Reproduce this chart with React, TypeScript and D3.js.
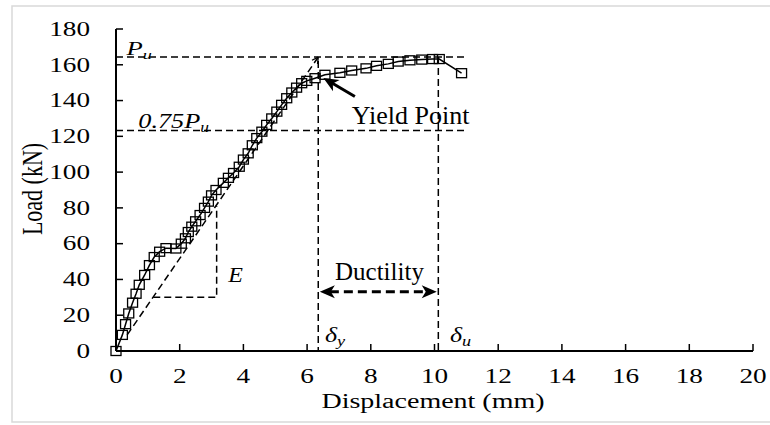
import React from 'react';
import * as d3 from 'd3';

// measured load-displacement curve
const displacement = [
  0, 0.2, 0.3, 0.4, 0.52, 0.63, 0.73, 0.9, 1.05, 1.2, 1.37, 1.57, 1.88, 2.05, 2.18,
  2.27, 2.38, 2.5, 2.64, 2.78, 2.9, 3.0, 3.14, 3.37, 3.53, 3.69, 3.87, 4.0, 4.15,
  4.28, 4.42, 4.58, 4.73, 4.89, 5.05, 5.2, 5.36, 5.52, 5.67, 5.83, 5.99, 6.25, 6.56,
  7.03, 7.4, 7.85, 8.18, 8.55, 8.86, 9.23, 9.6, 9.94, 10.15, 10.85,
];
const load = [
  0, 9, 15, 21, 27, 32, 37, 42.5, 48, 52.5, 55.5, 57.5, 57.3, 60, 63,
  66.5, 69.5, 72.5, 76, 80, 83.5, 87, 90, 94, 96.8, 99.5, 103, 107, 110.5,
  115, 119, 122.6, 126.4, 130, 133.8, 137.6, 141.3, 144.5, 147.2, 149.7, 151, 152.5, 154.4,
  155.5, 156.8, 158, 159.4, 160.5, 161.8, 162.5, 162.9, 163.2, 163.2, 155.3,
];

const xTicks = d3.range(0, 21, 2);
const yTicks = d3.range(0, 181, 20);

// annotation values (mm, kN)
const peakLoad = 164.3;
const yieldDisp = 6.35;
const ultDisp = 10.12;
const guideEnd = 11.05;
const secantStart = [0.35, 9];
const stiffTri = [1.17, 3.16, 30, 81];
const ductilityLoad = 33.1;
const ductilityRange = [6.4, 10.07];
const yieldArrow = [7.5, 142.3, 6.51, 152.6];

const W = 770;
const H = 425;
const FONT = '"Liberation Serif", "Times New Roman", serif';

const x = d3.scaleLinear().domain([0, 20]).range([116, 753]);
const y = d3.scaleLinear().domain([0, 180]).range([351, 29]);

function arrowHead(tx, ty, fx, fy, len, half, notch) {
  const a = Math.atan2(ty - fy, tx - fx);
  const c = Math.cos(a), s = Math.sin(a);
  const bx = tx - c * len, by = ty - s * len;
  const nx = tx - c * notch, ny = ty - s * notch;
  return `M${tx},${ty}L${bx - s * half},${by + c * half}L${nx},${ny}L${bx + s * half},${by - c * half}Z`;
}

function Stretch({ x0, y0, sx, children, anchor = 'start', size = 20, italic = false }) {
  return (
    <g transform={`translate(${x0},${y0}) scale(${sx},1)`}>
      <text fontFamily={FONT} fontSize={size} textAnchor={anchor}
        fontStyle={italic ? 'italic' : 'normal'} fill="#000">{children}</text>
    </g>
  );
}

export default function App() {
  const pts = displacement.map((d, i) => [d, load[i]]);
  const line = d3.line().x(d => x(d[0])).y(d => y(d[1]));

  const dash = { stroke: '#000', strokeWidth: 1.5, strokeDasharray: '7 4', fill: 'none' };

  const secX1 = x(secantStart[0]), secY1 = y(secantStart[1]);
  const secX2 = x(yieldDisp), secY2 = y(peakLoad);
  const secAng = Math.atan2(secY2 - secY1, secX2 - secX1);

  const dY = y(ductilityLoad);
  const dX1 = x(ductilityRange[0]), dX2 = x(ductilityRange[1]);

  const yaFx = x(yieldArrow[0]), yaFy = y(yieldArrow[1]);
  const yaTx = x(yieldArrow[2]), yaTy = y(yieldArrow[3]);
  const yaAng = Math.atan2(yaTy - yaFy, yaTx - yaFx);

  return (
    <svg width={W} height={H} style={{ position: 'absolute', left: 0, top: 0, background: '#fff' }}>
      <rect x={12} y={6} width={800} height={416} fill="#fff" stroke="#d9d9d9" strokeWidth={1.5} />

      {/* guide lines */}
      <line x1={x(0)} x2={x(guideEnd)} y1={y(peakLoad)} y2={y(peakLoad)} {...dash} />
      <line x1={x(0)} x2={x(guideEnd)} y1={y(peakLoad * 0.75)} y2={y(peakLoad * 0.75)} {...dash} />
      <line x1={x(yieldDisp)} x2={x(yieldDisp)} y1={y(peakLoad) + 4} y2={y(0)} {...dash} />
      <line x1={x(ultDisp)} x2={x(ultDisp)} y1={y(peakLoad)} y2={y(0)} {...dash} />

      {/* secant stiffness line */}
      <line x1={secX1} y1={secY1} x2={secX2} y2={secY2} {...dash} />
      {[-1, 1].map(k => (
        <line key={k} x1={secX2} y1={secY2}
          x2={secX2 - 7 * Math.cos(secAng + k * 0.5)} y2={secY2 - 7 * Math.sin(secAng + k * 0.5)}
          stroke="#000" strokeWidth={1.3} />
      ))}
      <path d={`M${x(stiffTri[0])},${y(stiffTri[2])}H${x(stiffTri[1])}V${y(stiffTri[3])}`} {...dash} />

      {/* curve */}
      <path d={line(pts)} fill="none" stroke="#000" strokeWidth={1.5} />
      {pts.map((p, i) => (
        <rect key={i} x={x(p[0]) - 5} y={y(p[1]) - 4.5} width={10} height={9}
          fill="none" stroke="#000" strokeWidth={1.3} />
      ))}

      {/* axes */}
      <line x1={x(0)} x2={x(0)} y1={y(180)} y2={y(0)} stroke="#000" strokeWidth={2} />
      <line x1={x(0)} x2={x(20)} y1={y(0)} y2={y(0)} stroke="#000" strokeWidth={2} />
      {yTicks.map(t => (
        <g key={t}>
          <line x1={x(0)} x2={x(0) + 7} y1={y(t)} y2={y(t)} stroke="#000" strokeWidth={1.5} />
          <Stretch x0={90} y0={y(t) + 6.8} sx={1.36} anchor="end">{t}</Stretch>
        </g>
      ))}
      {xTicks.map(t => (
        <g key={t}>
          <line x1={x(t)} x2={x(t)} y1={y(0)} y2={y(0) - 7} stroke="#000" strokeWidth={1.5} />
          <Stretch x0={x(t)} y0={383} sx={1.36} anchor="middle">{t}</Stretch>
        </g>
      ))}
      <Stretch x0={433} y0={408} sx={1.4} anchor="middle">Displacement (mm)</Stretch>
      <text transform="translate(41.5,189) scale(1.36,1) rotate(-90)" fontFamily={FONT} fontSize={22}
        textAnchor="middle">Load (kN)</text>

      {/* annotations */}
      <Stretch x0={126.5} y0={55} sx={1.4} size={19} italic>P<tspan fontSize={13} dy={4}>u</tspan></Stretch>
      <Stretch x0={138.3} y0={127.7} sx={1.25} size={21} italic>0.75P<tspan fontSize={14} dy={4}>u</tspan></Stretch>
      <Stretch x0={228.3} y0={281.7} sx={1.2} size={20} italic>E</Stretch>
      <Stretch x0={325} y0={341.5} sx={1.3} size={20} italic>δ<tspan fontSize={14} dy={4}>y</tspan></Stretch>
      <Stretch x0={450} y0={341.5} sx={1.3} size={20} italic>δ<tspan fontSize={14} dy={4}>u</tspan></Stretch>
      <text x={351.7} y={124} fontFamily={FONT} fontSize={26}>Yield Point</text>
      <text x={335} y={280} fontFamily={FONT} fontSize={25}>Ductility</text>

      {/* yield point arrow */}
      <line x1={yaFx} y1={yaFy} x2={yaTx - 10 * Math.cos(yaAng)} y2={yaTy - 10 * Math.sin(yaAng)}
        stroke="#000" strokeWidth={3} />
      <path d={arrowHead(yaTx, yaTy, yaFx, yaFy, 15, 6.5, 11)} fill="#000" />

      {/* ductility arrow */}
      <line x1={dX1 + 10} x2={dX2 - 10} y1={dY} y2={dY} stroke="#000" strokeWidth={3} strokeDasharray="9 5" />
      <path d={arrowHead(dX1, dY, dX2, dY, 15, 6.5, 11)} fill="#000" />
      <path d={arrowHead(dX2, dY, dX1, dY, 15, 6.5, 11)} fill="#000" />
    </svg>
  );
}
